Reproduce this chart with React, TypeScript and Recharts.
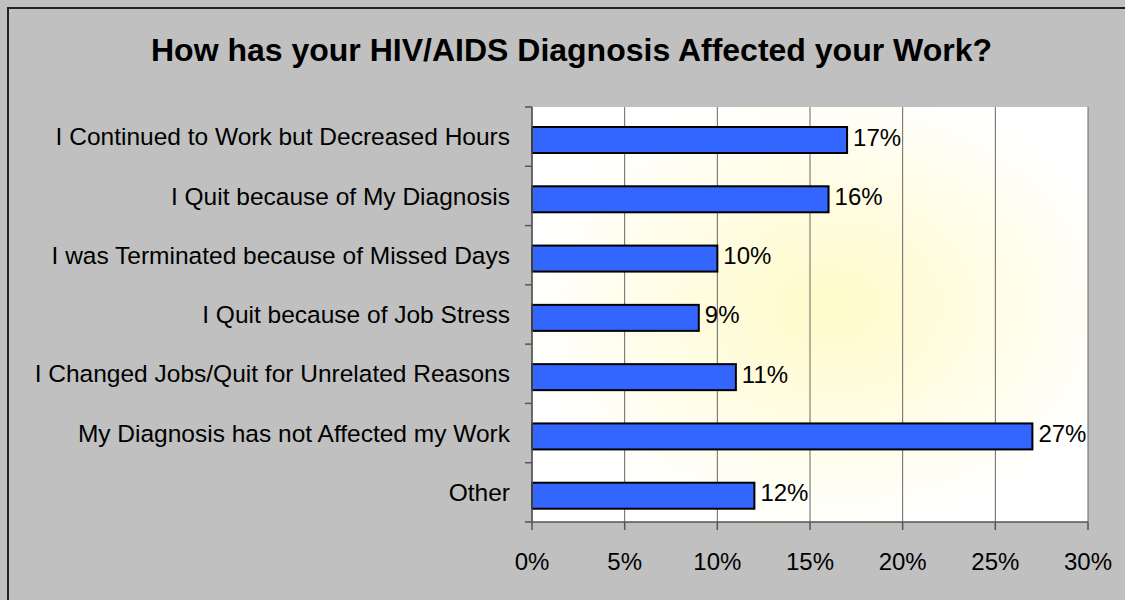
import React from 'react'
import { BarChart, Bar, XAxis, YAxis, CartesianGrid, LabelList } from 'recharts'

const categories = [
  'I Continued to Work but Decreased Hours',
  'I Quit because of My Diagnosis',
  'I was Terminated because of Missed Days',
  'I Quit because of Job Stress',
  'I Changed Jobs/Quit for Unrelated Reasons',
  'My Diagnosis has not Affected my Work',
  'Other',
]
const percents = [17, 16, 10, 9, 11, 27, 12]
const xTicks = [0, 5, 10, 15, 20, 25, 30]

const data = categories.map((name, i) => ({ name, value: percents[i] }))

const FONT = '"Liberation Sans", Arial, sans-serif'
const PLOT_LEFT = 532
const PLOT_TOP = 107
const PLOT_BOTTOM = 522
const BAND = (PLOT_BOTTOM - PLOT_TOP) / categories.length

function CategoryTick(props: any) {
  const { y, payload, index } = props
  return (
    <g>
      <line x1={PLOT_LEFT - 7} x2={PLOT_LEFT} y1={y - BAND / 2} y2={y - BAND / 2} stroke="#555" strokeWidth={1.5} />
      {index === categories.length - 1 && (
        <line x1={PLOT_LEFT - 7} x2={PLOT_LEFT} y1={y + BAND / 2} y2={y + BAND / 2} stroke="#555" strokeWidth={1.5} />
      )}
      <text x={PLOT_LEFT - 22} y={y} dy="0.355em" textAnchor="end" fontSize={24.5} fill="#000" fontFamily={FONT}>
        {payload.value}
      </text>
    </g>
  )
}

// bars sit a few pixels below the band centre in the original
function OffsetBar(props: any) {
  const { x, y, width, height } = props
  return <rect x={x} y={y + 3} width={width} height={height} fill="#3366FF" stroke="#000" strokeWidth={2} />
}

export default function App() {
  return (
    <div style={{ position: 'fixed', left: 0, top: 0, width: 1125, height: 600, background: '#C0C0C0', overflow: 'hidden', fontFamily: FONT }}>
      <div style={{ position: 'absolute', left: 7, top: 7, width: 1118, height: 2, background: '#222' }} />
      <div style={{ position: 'absolute', left: 7, top: 7, width: 2, height: 593, background: '#222' }} />
      <svg width={0} height={0} style={{ position: 'absolute' }}>
        <defs>
          <radialGradient id="plotGlow" cx="0.53" cy="0.48" r="0.55">
            <stop offset="0%" stopColor="#FFFAC8" />
            <stop offset="55%" stopColor="#FFFDE6" />
            <stop offset="100%" stopColor="#FFFFFF" />
          </radialGradient>
        </defs>
      </svg>
      <div style={{ position: 'absolute', left: 0, top: 32, width: 1143, textAlign: 'center', fontSize: 32, fontWeight: 'bold', color: '#000', whiteSpace: 'nowrap' }}>
        How has your HIV/AIDS Diagnosis Affected your Work?
      </div>
      <div style={{ position: 'absolute', left: 0, top: 0 }}>
        <BarChart
          width={1125}
          height={600}
          data={data}
          layout="vertical"
          margin={{ top: PLOT_TOP, right: 37, bottom: 0, left: 0 }}
          barCategoryGap={0}
        >
          <CartesianGrid horizontal={false} stroke="#666" strokeWidth={1} fill="url(#plotGlow)" fillOpacity={1} />
          <XAxis
            type="number"
            domain={[0, 30]}
            ticks={xTicks}
            tickFormatter={(v: number) => `${v}%`}
            height={78}
            tickSize={8}
            tickMargin={23}
            stroke="#555"
            strokeWidth={1.5}
            tick={{ fill: '#000', fontSize: 24, fontFamily: FONT }}
            interval={0}
          />
          <YAxis
            type="category"
            dataKey="name"
            width={PLOT_LEFT}
            tick={<CategoryTick />}
            tickLine={false}
            stroke="#555"
            strokeWidth={1.5}
            interval={0}
          />
          <Bar dataKey="value" fill="#3366FF" stroke="#000" strokeWidth={2} barSize={26} shape={<OffsetBar />} isAnimationActive={false}>
            <LabelList
              dataKey="value"
              position="right"
              offset={6}
              formatter={(v: any) => `${v}%`}
              style={{ fill: '#000', fontSize: 24, fontFamily: FONT }}
            />
          </Bar>
        </BarChart>
      </div>
    </div>
  )
}
